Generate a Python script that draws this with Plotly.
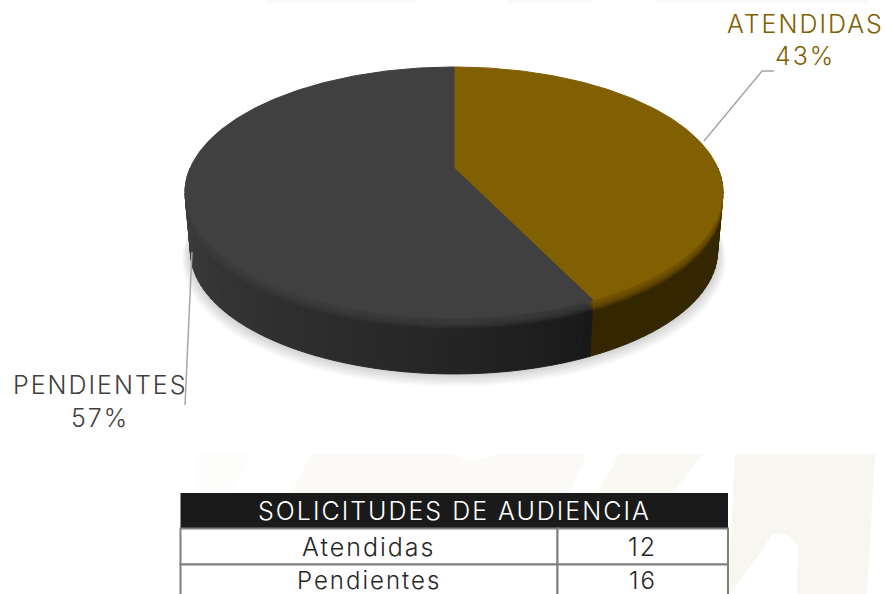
import math
import plotly.graph_objects as go

categories = ["ATENDIDAS", "PENDIENTES"]
table_title = "SOLICITUDES DE AUDIENCIA"
table_rows = ["Atendidas", "Pendientes"]
values = [12, 16]

FONT = "Inter"
TOP = {"ATENDIDAS": (128, 96, 0), "PENDIENTES": (64, 64, 64)}
WALL_A = {"ATENDIDAS": (52, 39, 0), "PENDIENTES": (62, 62, 62)}
WALL_B = {"ATENDIDAS": (52, 39, 0), "PENDIENTES": (24, 24, 24)}
TEXT = {"ATENDIDAS": "#7f6000", "PENDIENTES": "#404040"}

# Projection of the pie's unit circle onto the page
CX, CY, A, C, K = 454.0, 168.0, 263.8, 120.7, 0.195
DEPTH, SHRINK = 59.0, 0.98


def project(theta, scale=1.0, dy=0.0):
    u, v = math.sin(theta), math.cos(theta)
    d = 1 + K * v
    return CX + scale * A * u / d, CY + scale * C * (-v) / d + dy


def rgb(c, a=None):
    if a is None:
        return "rgb(%d,%d,%d)" % tuple(round(x) for x in c)
    return "rgba(%d,%d,%d,%.3f)" % (*[round(x) for x in c], a)


def mix(c1, c2, t):
    return tuple(a + (b - a) * t for a, b in zip(c1, c2))


def polygon(points, fill, name, line=None):
    xs = [p[0] for p in points] + [points[0][0]]
    ys = [p[1] for p in points] + [points[0][1]]
    return go.Scatter(
        x=xs, y=ys, mode="lines", fill="toself", fillcolor=fill,
        line=dict(color=line or "rgba(0,0,0,0)", width=1 if line else 0),
        hoverinfo="skip", showlegend=False, name=name,
    )


fig = go.Figure()
total = sum(values)
slices = []
start = 0.0
for cat, val in zip(categories, values):
    sweep = 2 * math.pi * val / total
    slices.append((cat, start, start + sweep))
    start += sweep

# Soft drop shadow under the pie
for i in range(9, 0, -1):
    pts = [project(2 * math.pi * j / 180, SHRINK + i * 0.0035, DEPTH + i * 0.9) for j in range(180)]
    fig.add_trace(polygon(pts, "rgba(0,0,0,0.018)", "shadow"))

# Side wall, visible along the front half only
for cat, a0, a1 in slices:
    lo, hi = max(a0, math.pi / 2), min(a1, 3 * math.pi / 2)
    n = 30 if cat == "ATENDIDAS" else 60
    for i in range(n):
        t0 = lo + (hi - lo) * i / n
        t1 = lo + (hi - lo) * (i + 1) / n
        if t1 <= t0:
            continue
        t = i / max(n - 1, 1)
        # wall darkens towards the right-hand side of the pie
        if cat == "PENDIENTES":
            col = mix(WALL_B[cat], WALL_A[cat], t ** 0.75)
        else:
            col = WALL_A[cat]
        pts = [project(t0), project(t1), project(t1, SHRINK, DEPTH), project(t0, SHRINK, DEPTH)]
        fig.add_trace(polygon(pts, rgb(col), "wall", line=rgb(col)))


def face(a0, a1, dy=0.0):
    n = max(int((a1 - a0) * 60), 2)
    pts = [(CX, CY + dy)]
    pts += [project(a0 + (a1 - a0) * j / n, 1.0, dy) for j in range(n + 1)]
    return pts


# Rounded rim: the top colour fading down on to the wall
for d in range(11, 0, -1):
    for cat, a0, a1 in slices:
        fig.add_trace(polygon(face(a0, a1, d * 1.0), rgb(TOP[cat], 0.17), "rim"))

# Top face
for cat, a0, a1 in slices:
    fig.add_trace(polygon(face(a0, a1), rgb(TOP[cat]), cat, line=rgb(TOP[cat])))

# Leader lines
LEADER = dict(color="#a6a6a6", width=1.5)
fig.add_trace(go.Scatter(x=[704, 762, 774], y=[141, 71, 71], mode="lines", line=LEADER,
                         hoverinfo="skip", showlegend=False))
fig.add_trace(go.Scatter(x=[192, 185], y=[252, 405], mode="lines", line=LEADER,
                         hoverinfo="skip", showlegend=False))

annotations = []


def label(x, y, text, color, size):
    annotations.append(dict(x=x, y=y, text=text, xref="x", yref="y", showarrow=False,
                            xanchor="center", yanchor="middle",
                            font=dict(family=FONT, size=size, color=color, weight=300)))


pct = [round(100 * v / total) for v in values]
label(805, 24, categories[0], TEXT["ATENDIDAS"], 25)
label(805, 56, "%d%%" % pct[0], TEXT["ATENDIDAS"], 25)
label(100, 385, categories[1], TEXT["PENDIENTES"], 25)
label(100, 418, "%d%%" % pct[1], TEXT["PENDIENTES"], 25)

# Table
shapes = []
TX0, TX1, TXM = 180.5, 728, 557.5
HEAD_T, HEAD_B = 493, 528.5
ROW_H = 36
ROW_TEXT_Y = [547, 580.5]
ROW_TEXT_SIZE = [25, 24]
shapes.append(dict(type="rect", x0=TX0, x1=TX1, y0=HEAD_T, y1=HEAD_B, xref="x", yref="y",
                   fillcolor="#1a1a1a", line=dict(width=0), layer="above"))
label((TX0 + TX1) / 2, (HEAD_T + HEAD_B) / 2, table_title, "#ffffff", 25)
for i, (name, val) in enumerate(zip(table_rows, values)):
    y0 = HEAD_B + i * ROW_H
    y1 = y0 + ROW_H
    for xa, xb in [(TX0, TXM), (TXM, TX1)]:
        shapes.append(dict(type="rect", x0=xa, x1=xb, y0=y0, y1=y1, xref="x", yref="y",
                           fillcolor="#ffffff", line=dict(color="#7f7f7f", width=2), layer="above"))
    label((TX0 + TXM) / 2, ROW_TEXT_Y[i], name, "#262626", ROW_TEXT_SIZE[i])
    label((TXM + TX1) / 2, ROW_TEXT_Y[i], str(val), "#262626", ROW_TEXT_SIZE[i])

# Faint page watermark
for col, pts in [
    ("#fbf9f6", [(266, 0), (415, 0), (415, 3), (266, 3)]),
    ("#fbf9f6", [(507, 0), (591, 0), (591, 3), (507, 3)]),
    ("#fbf9f6", [(656, 0), (868, 0), (868, 3), (656, 3)]),
    ("#fdfdfc", [(198, 454), (252, 454), (230, 493), (198, 493)]),
    ("#fbfaf6", [(311, 454), (451, 454), (465, 460), (480, 460), (497, 454), (587, 454), (569, 493), (291, 493)]),
    ("#f9f8f3", [(619, 454), (703, 454), (673, 493), (598, 493)]),
    ("#f8f6f1", [(735, 454), (875, 454), (867, 594), (797, 594), (798, 545), (785, 533),
                 (772, 535), (755, 560), (730, 594), (728, 594)]),
]:
    shapes.append(dict(type="path", xref="x", yref="y", fillcolor=col, line=dict(width=0), layer="below",
                       path="M " + " L ".join("%d,%d" % p for p in pts) + " Z"))

fig.update_layout(
    width=889, height=594,
    margin=dict(l=0, r=0, t=0, b=0),
    paper_bgcolor="#ffffff", plot_bgcolor="rgba(0,0,0,0)",
    xaxis=dict(range=[0, 889], visible=False, fixedrange=True),
    yaxis=dict(range=[594, 0], visible=False, fixedrange=True),
    showlegend=False,
    annotations=annotations,
    shapes=shapes,
)
fig.write_html(
    "out.html",
    config={"displayModeBar": False},
    post_script=(
        "document.body.style.margin='0';"
        "document.body.style.overflow='hidden';"
        "document.querySelectorAll('.annotation-text').forEach(function(t){t.style.letterSpacing='2px';});"
    ),
)
